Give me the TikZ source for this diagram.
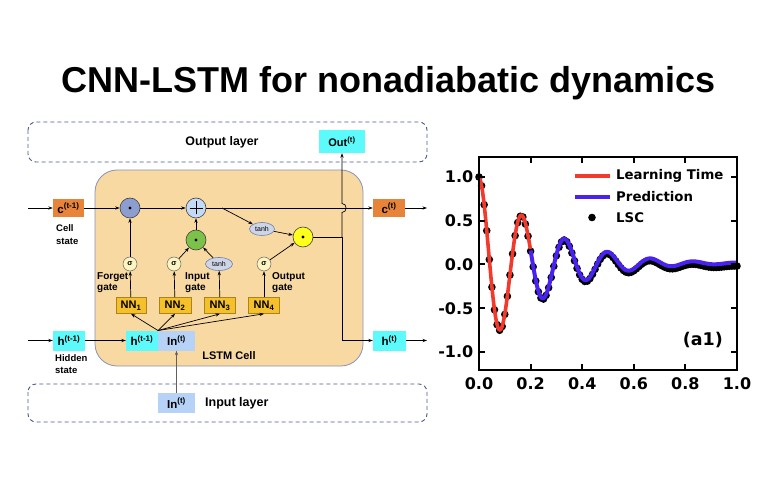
\documentclass[tikz,border=0pt]{standalone}
\usepackage{fontspec}
\setmainfont{Liberation Sans}
\newfontfamily\dvs{DejaVu Sans}
\usetikzlibrary{shapes.geometric,arrows.meta}
\definecolor{cellfill}{HTML}{F8D9A2}
\definecolor{cellline}{HTML}{8893B5}
\definecolor{layerline}{HTML}{4A5A8E}
\definecolor{corange}{HTML}{E8833A}
\definecolor{hcyan}{HTML}{5CFAFA}
\definecolor{inblue}{HTML}{B6D2F6}
\definecolor{nnfill}{HTML}{F5C02A}
\definecolor{nnline}{HTML}{A8841E}
\definecolor{fcirc}{HTML}{8C9ED0}
\definecolor{pcirc}{HTML}{C3D9F6}
\definecolor{gcirc}{HTML}{7CC24A}
\definecolor{ycirc}{HTML}{FFFF1E}
\definecolor{sigfill}{HTML}{FCF5C2}
\definecolor{tanhfill}{HTML}{CDD5E7}
\definecolor{tanhline}{HTML}{6E7EAA}
\definecolor{plred}{HTML}{F23A2C}
\definecolor{plblue}{HTML}{4A22F0}
\begin{document}
\begin{tikzpicture}[x=1pt,y=-1pt,
  declare function={ff(\t)=exp(-3.3*\t-1.6*\t*\t)*cos(2160*\t)+0.015*(1-exp(-6*\t));
                    px(\t)=479+258*\t; py(\v)=264.5-87.5*\v;},
  arr/.style={-{Stealth[length=4.5pt,width=3.2pt]}, line width=0.7pt},
  plainline/.style={line width=0.7pt},
  boxbase/.style={rectangle, inner sep=0pt, font=\fontsize{11.5}{13}\selectfont\bfseries},
  cbox/.style={boxbase, fill=corange, minimum width=31pt, minimum height=18pt},
  hbox/.style={boxbase, fill=hcyan, minimum width=32pt, minimum height=20pt},
  inbox/.style={boxbase, fill=inblue, minimum width=37pt, minimum height=20pt},
  nnbox/.style={boxbase, fill=nnfill, draw=nnline, line width=0.6pt, minimum width=30pt, minimum height=16pt, font=\fontsize{11}{13}\selectfont\bfseries},
  opcirc/.style={circle, draw=black!75, line width=0.6pt, minimum size=20pt, inner sep=0pt},
  sigc/.style={circle, fill=sigfill, draw=gray!80!black, line width=0.5pt, minimum size=14pt, inner sep=0pt, font=\fontsize{7.5}{8}\selectfont\bfseries},
  tanhe/.style={ellipse, fill=tanhfill, draw=tanhline, line width=0.6pt, minimum width=25pt, minimum height=13pt, inner sep=0pt, font=\fontsize{7}{8}\selectfont},
  layer/.style={draw=layerline, dash pattern=on 4pt off 3pt, rounded corners=8pt, line width=0.9pt},
  lbl/.style={font=\fontsize{10}{11.5}\selectfont\bfseries, align=left, anchor=west, inner sep=0pt},
  tickl/.style={font={\fontsize{16}{18}\dvs\bfseries}, inner sep=0pt},
  legl/.style={font={\fontsize{13.3}{15}\dvs\bfseries}, inner sep=0pt, anchor=west},
]
\useasboundingbox (0,0) rectangle (768,486);

% title
\node[anchor=base, inner sep=0pt, font=\fontsize{36}{40}\selectfont\bfseries] (title) at (388.5,92.5) {CNN-LSTM for nonadiabatic dynamics};

% layers
\draw[layer] (28,122) rectangle (427,162);
\node[font=\fontsize{12.4}{14}\selectfont\bfseries, inner sep=0pt] (outlbl) at (222,142) {Output layer};
\draw[layer] (28,384) rectangle (427,422);
\node[font=\fontsize{12.5}{14}\selectfont\bfseries, inner sep=0pt, anchor=west] (inlbl) at (205,403) {Input layer};

% LSTM cell
\draw[fill=cellfill, draw=cellline, line width=0.8pt, rounded corners=22pt] (95,170) rectangle (363,366);
\node[font=\fontsize{11}{13}\selectfont\bfseries, inner sep=0pt] (celllbl) at (229,355.5) {LSTM Cell};

% boxes
\node[cbox] (cprev) at (68.5,208) {c\textsuperscript{(t-1)}};
\node[cbox, minimum width=32pt] (ct) at (389,208) {c\textsuperscript{(t)}};
\node[hbox] (hprev) at (69,340.5) {h\textsuperscript{(t-1)}};
\node[hbox] (hin) at (142,340.5) {h\textsuperscript{(t-1)}};
\node[inbox] (inup) at (176.5,340.5) {In\textsuperscript{(t)}};
\node[hbox, minimum width=33pt] (ht) at (389.5,340.5) {h\textsuperscript{(t)}};
\node[inbox] (inlow) at (176.5,403) {In\textsuperscript{(t)}};
\node[hbox, minimum width=46pt, minimum height=23pt, font=\fontsize{11}{13}\selectfont\bfseries] (out) at (342,141.5) {Out\textsuperscript{(t)}};

% operation circles
\node[opcirc, fill=fcirc] (F) at (130,208) {};
\node[opcirc, fill=pcirc] (P) at (196,208) {};
\node[opcirc, fill=gcirc] (G) at (196,240) {};
\node[opcirc, fill=ycirc] (Y) at (303,237) {};
\fill (F.center) circle (1.7);
\fill (G.center) circle (1.7);
\fill (Y.center) circle (1.7);
\draw[line width=0.8pt] ([xshift=-6.5pt]P.center) -- ([xshift=6.5pt]P.center);
\draw[line width=0.8pt] ([yshift=-6.5pt]P.center) -- ([yshift=6.5pt]P.center);
\node[tanhe] (T1) at (262,229) {tanh};

% gates
\node[sigc] (S1) at (130,264) {σ};
\node[sigc] (S2) at (174,264) {σ};
\node[tanhe, minimum width=27pt] (T2) at (219,264) {tanh};
\node[sigc] (S4) at (264,264) {σ};
\node[nnbox] (N1) at (131,305.5) {NN\textsubscript{1}};
\node[nnbox, minimum width=32pt] (N2) at (175,305.5) {NN\textsubscript{2}};
\node[nnbox, minimum width=31pt] (N3) at (220,305.5) {NN\textsubscript{3}};
\node[nnbox, minimum width=31pt] (N4) at (264,305.5) {NN\textsubscript{4}};

% labels
\node[lbl] (fgl) at (97,282.5) {Forget\\gate};
\node[lbl] (igl) at (185,282.5) {Input\\gate};
\node[lbl] (ogl) at (272,282.5) {Output\\gate};
\node[lbl, font=\fontsize{9.5}{12.5}\selectfont\bfseries] (csl) at (56,234.5) {Cell\\state};
\node[lbl, font=\fontsize{9.5}{12.5}\selectfont\bfseries] (hsl) at (55,364) {Hidden\\state};

% cell-state line
\coordinate (cin) at (28,208);
\coordinate (cout) at (427,208);
\coordinate (tb) at (222,208);
\draw[arr] (cin) -- (cprev);
\draw[arr] (cprev) -- (F);
\draw[arr] (F) -- (P);
\draw[arr] (P) -- (ct);
\draw[arr] (ct) -- (cout);
\draw[arr] (tb) -- (T1);
\draw[arr] (T1) -- (Y);
\draw[arr] (G) -- (P);

% gate connectors
\draw[arr] (N1) -- (S1);
\draw[arr] (S1) -- (F);
\draw[arr] (N2) -- (S2);
\draw[arr] (S2) -- (G);
\draw[arr] (N3) -- (T2);
\draw[arr] (T2) -- (G);
\draw[arr] (N4) -- (S4);
\draw[arr] (S4) -- (Y);

% output path
\coordinate (j) at (342,237);
\coordinate (hopb) at (342,212.5);
\coordinate (hopt) at (342,203.5);
\draw[plainline] (Y) -- (j);
\draw[arr] (j) |- (ht);
\draw[arr] (j) -- (hopb) .. controls (347.5,212.5) and (347.5,203.5) .. (hopt) -- (out);

% hidden line
\coordinate (hin0) at (28,340.5);
\coordinate (hout) at (427,340.5);
\draw[arr] (hin0) -- (hprev);
\draw[arr] (hprev) -- (hin);
\draw[arr] (ht) -- (hout);
\coordinate (fan) at (158,330.5);
\draw[arr] (fan) -- (N1.south);
\draw[arr] (fan) -- (N2.south);
\draw[arr] (fan) -- (N3.south);
\draw[arr] (fan) -- (N4.south);
\draw[arr, draw=gray!75!black, fill=gray!75!black] (inlow) -- (inup);

% ---------- plot ----------
\foreach \i in {0,...,100} {
  \fill ({px(\i/100)},{py(ff(\i/100)-0.04*\i/100)}) circle (3.8);
}
\draw[plred, line width=3.6pt, line join=round] plot[domain=0:0.2, samples=81] ({px(\x)},{py(ff(\x))});
\draw[plblue, line width=4pt, line join=round] plot[domain=0.2:1, samples=321] ({px(\x)},{py(ff(\x))});

\foreach \v/\l in {1/1.0, 0.5/0.5, 0/0.0, -0.5/-0.5, -1/-1.0} {
  \draw[line width=2pt] (479,{py(\v)}) -- ++(6,0);
  \draw[line width=2pt] (737,{py(\v)}) -- ++(-6,0);
  \node[tickl, anchor=east] at (473.5,{py(\v)}) {\l};
}
\foreach \t/\l in {0/0.0, 0.2/0.2, 0.4/0.4, 0.6/0.6, 0.8/0.8, 1/1.0} {
  \draw[line width=2pt] ({px(\t)},370) -- ++(0,-6);
  \draw[line width=2pt] ({px(\t)},157) -- ++(0,6);
  \node[tickl] at ({px(\t)},383.5) {\l};
}
\draw[line width=2.5pt] (479,157) rectangle (737,370);

% legend
\coordinate (lr1) at (575,176); \coordinate (lr2) at (610,176);
\coordinate (lb1) at (575,197); \coordinate (lb2) at (610,197);
\draw[plred, line width=4pt] (lr1) -- (lr2);
\draw[plblue, line width=4pt] (lb1) -- (lb2);
\fill (592,217.5) circle (3.8);
\node[legl] (lg1) at (616,176) {Learning Time};
\node[legl] (lg2) at (616,197) {Prediction};
\node[legl] (lg3) at (616,217.5) {LSC};
\node[font={\fontsize{17.5}{20}\dvs\bfseries}, inner sep=0pt, anchor=east] (a1) at (723,340) {(a1)};
\end{tikzpicture}
\end{document}
